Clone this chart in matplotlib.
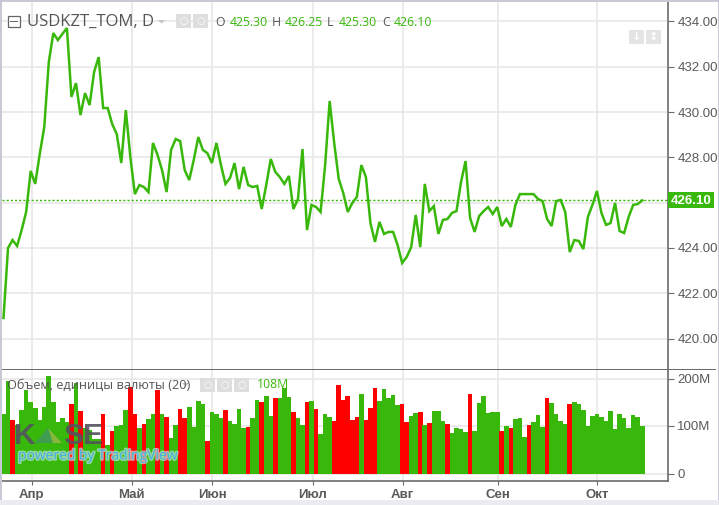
import matplotlib
matplotlib.use('Agg')
import matplotlib.pyplot as plt
import matplotlib.patheffects as pe
from matplotlib.patches import Rectangle, Polygon

#----------------------------------------------------------------------
# DATA
prices = [420.91, 424.0, 424.35, 424.09, 424.79, 425.59, 427.40, 426.83, 428.15, 429.34,
          432.21, 433.49, 433.18, 433.45, 433.71, 430.67, 431.28, 429.87, 430.84, 430.31,
          431.77, 432.43, 430.18, 430.18, 429.47, 429.03, 427.75, 430.09, 428.02, 426.38,
          426.78, 426.69, 426.47, 428.64, 428.11, 427.44, 426.47, 428.33, 428.81, 428.72,
          427.44, 427.0, 427.89, 428.90, 428.33, 428.19, 427.75, 428.64, 427.66, 426.83,
          427.09, 427.75, 426.6, 427.58, 426.78, 426.69, 426.74, 425.72, 426.78, 427.93,
          427.36, 427.13, 426.83, 427.18, 425.72, 426.16, 428.37, 424.79, 425.90, 425.81,
          425.59, 427.66, 430.49, 428.64, 427.05, 426.43, 425.59, 425.99, 426.25, 427.66,
          427.13, 425.10, 424.27, 425.15, 424.62, 424.71, 424.71, 424.13, 423.34, 423.60,
          424.04, 425.46, 424.04, 426.83, 425.63, 425.85, 424.62, 425.24, 425.28, 425.55,
          425.63, 426.91, 427.84, 425.32, 424.71, 425.41, 425.63, 425.81, 425.50, 425.81,
          424.97, 425.28, 424.93, 425.90, 426.38, 426.38, 426.38, 426.38, 426.16, 426.07,
          425.28, 424.97, 426.07, 426.12, 425.59, 423.82, 424.35, 424.31, 423.95, 425.37,
          425.90, 426.52, 425.55, 425.02, 425.10, 425.99, 424.75, 424.66, 425.37, 425.90,
          425.94, 426.10]

volumes = [126, 194, 112, 102, 133, 175, 150, 137, 112, 140,
           206, 150, 109, 116, 109, 147, 190, 131, 95, 91,
           72, 72, 126, 61, 90, 100, 102, 133, 183, 125,
           95, 105, 114, 125, 175, 126, 119, 75, 103, 135,
           117, 140, 98, 153, 147, 68, 130, 126, 116, 133,
           110, 105, 135, 95, 97, 117, 154, 151, 163, 121,
           158, 158, 181, 161, 129, 116, 103, 150, 153, 135,
           84, 125, 119, 110, 186, 154, 163, 112, 119, 167,
           112, 138, 180, 152, 178, 158, 165, 144, 147, 108,
           121, 127, 129, 103, 106, 131, 131, 110, 104, 86,
           95, 93, 88, 167, 90, 149, 163, 128, 129, 129,
           89, 101, 95, 114, 117, 77, 103, 108, 124, 97,
           158, 149, 125, 110, 104, 147, 150, 147, 133, 101,
           121, 125, 119, 110, 131, 93, 125, 116, 95, 123,
           119, 99]

down_bars = [2, 15, 17, 22, 24, 28, 29, 31, 34, 36, 39, 40, 45, 49, 54, 57, 60, 64, 67, 69,
             73, 74, 75, 76, 77, 78, 80, 81, 82, 88, 89, 92, 94, 98, 103, 110, 112, 116, 120, 125]

month_pos = [6.2, 28.3, 46.1, 68.3, 88.1, 109.2, 131.1]
month_labels = ['Апр', 'Май', 'Июн', 'Июл', 'Авг', 'Сен', 'Окт']
price_ticks = [420, 422, 424, 426, 428, 430, 432, 434]
price_labels = ['420.00', '422.00', '424.00', '', '428.00', '430.00', '432.00', '434.00']
vol_ticks = [0, 100, 200]
vol_labels = ['0', '100M', '200M']
last_price = 426.10
ohlc_names = ['O', 'H', 'L', 'C']
ohlc_values = ['425.30', '426.25', '425.30', '426.10']

#----------------------------------------------------------------------
# SETUP
W, H = 719, 505
GREEN = '#38b80a'
RED = '#ff0000'
GRID = '#e6e6e6'
AXIS = '#6b6b6b'
TXT = '#5a5a5a'
plt.rcParams['font.family'] = ['Liberation Sans', 'DejaVu Sans']

def box(x0, y0, x1, y1):
    # pixel box (top-left origin) to figure fraction
    return [x0/W, 1-y1/H, (x1-x0)/W, (y1-y0)/H]

def px(x, y, s, **kw):
    return fig.text(x/W, 1-y/H, s, va='center', **kw)

def rect(x0, y0, x1, y1, color, z=5):
    fig.add_artist(Rectangle((x0/W, 1-y1/H), (x1-x0)/W, (y1-y0)/H, transform=fig.transFigure,
                             facecolor=color, edgecolor='none', zorder=z))

def tri(pts, color, z=7, alpha=1.0):
    fig.add_artist(Polygon([(a/W, 1-b/H) for a, b in pts], transform=fig.transFigure,
                           facecolor=color, edgecolor='none', alpha=alpha, zorder=z))

fig = plt.figure(figsize=(W/100, H/100), dpi=100, facecolor='white')

# x scale: bar i sits at pixel 3.5+4.53*i
xlim = ((2-3.5)/4.53, (667.5-3.5)/4.53)
xs = list(range(len(prices)))

#----------------------------------------------------------------------
# PRICE PANE
ax = fig.add_axes(box(2, 2, 667.5, 368.5))
ax.set_xlim(xlim)
ax.set_ylim(434-(368.5-21.5)/22.65, 434+(21.5-2)/22.65)
ax.set_xticks(month_pos)
ax.set_yticks(price_ticks)
ax.set_yticklabels(price_labels, fontsize=9.5, color=TXT)
ax.yaxis.tick_right()
ax.tick_params(axis='x', length=0, labelbottom=False)
ax.tick_params(axis='y', length=4, color=AXIS, pad=3)
ax.grid(True, color=GRID, lw=1.1)
ax.set_axisbelow(True)
for s in ['top', 'left', 'bottom']:
    ax.spines[s].set_visible(False)
ax.spines['right'].set_color(AXIS)
ax.spines['right'].set_linewidth(1.2)
ax.axhline(last_price, color=GREEN, lw=1, ls=(0, (1.5, 1.5)), zorder=2)
ax.plot(xs, prices, color=GREEN, lw=1.8, solid_joinstyle='miter', zorder=3)

#----------------------------------------------------------------------
# VOLUME PANE
ax2 = fig.add_axes(box(2, 369.5, 667.5, 481))
ax2.set_xlim(xlim)
ax2.set_ylim(-(481-473.5)/0.475, (473.5-369.5)/0.475)
colors = [RED if i in down_bars else GREEN for i in range(len(volumes))]
ax2.bar(xs, volumes, width=1.02, color=colors, zorder=2)
ax2.set_xticks(month_pos)
ax2.set_xticklabels(month_labels, fontsize=9.5, color=TXT, fontweight='bold')
ax2.set_yticks(vol_ticks)
ax2.set_yticklabels(vol_labels, fontsize=9.5, color=TXT)
ax2.yaxis.tick_right()
ax2.tick_params(axis='x', length=3, color=AXIS, pad=3)
ax2.tick_params(axis='y', length=4, color=AXIS, pad=3)
ax2.grid(True, color=GRID, lw=1.1)
ax2.set_axisbelow(True)
ax2.spines['top'].set_visible(False)
ax2.spines['left'].set_visible(False)
ax2.spines['right'].set_color(AXIS)
ax2.spines['right'].set_linewidth(1.2)
ax2.spines['bottom'].set_color(AXIS)
ax2.spines['bottom'].set_linewidth(1.2)

#----------------------------------------------------------------------
# FRAME
rect(0, 0, 719, 1.5, '#c9c9d6', 1)
rect(0, 0, 1.5, 505, '#c9c9d6', 1)
rect(717.5, 0, 719, 505, '#c9c9d6', 1)
rect(0, 500, 719, 505, '#eaecf2', 1)
rect(2, 368.5, 716, 370, AXIS, 6)

#----------------------------------------------------------------------
# HEADER TEXT
fig.add_artist(Rectangle((7.5/W, 1-27/H), 12.5/W, 11/H, transform=fig.transFigure,
                         facecolor='white', edgecolor='#666666', lw=0.9, zorder=7))
rect(10, 21, 18, 22, '#666666', 8)
px(27, 22, 'USDKZT_TOM, D', fontsize=12, color='#555555', family='Open Sans', zorder=7)
tri([(158, 20), (165, 20), (161.5, 23.5)], '#c4c4c4')
rect(176, 14, 191, 28, '#dedede', 7)
rect(193, 14, 208, 28, '#dedede', 7)
for cx in [183.5, 200.5]:
    px(cx, 21, '○', fontsize=7, color='white', ha='center', zorder=8, family='DejaVu Sans')

name_x = [215, 272, 327, 382]
value_x = [230, 285, 339, 394]
for nx, vx, n, v in zip(name_x, value_x, ohlc_names, ohlc_values):
    px(nx, 22, n, fontsize=8.8, color='#555555', zorder=7, family='Open Sans')
    px(vx, 22, v, fontsize=8.8, color=GREEN, zorder=7, family='Open Sans')

rect(629, 30, 644, 44, '#e4e4e4', 7)
rect(646, 30, 661, 44, '#e4e4e4', 7)
px(636.5, 37, '↓', fontsize=8, color='white', ha='center', zorder=8, family='DejaVu Sans', fontweight='bold')
px(653.5, 37, '↕', fontsize=8, color='white', ha='center', zorder=8, family='DejaVu Sans', fontweight='bold')

# last price label
rect(668, 192.5, 714, 208.5, GREEN, 7)
px(691, 201, '%.2f' % last_price, fontsize=9.5, color='white', fontweight='bold', ha='center', zorder=8)

# volume legend
px(7, 385, 'Объем, единицы валюты (20)', fontsize=9.2, color='#555555', zorder=7, family='Open Sans')
tri([(182, 383), (189, 383), (185.5, 386.5)], '#c4c4c4')
for x0 in [200, 217, 234]:
    rect(x0, 378, x0+15, 392, '#dedede', 7)
    px(x0+7.5, 385, '○', fontsize=7, color='white', ha='center', zorder=8, family='DejaVu Sans')
px(257, 385, '108M', fontsize=8.8, color=GREEN, zorder=7, family='Open Sans')

#----------------------------------------------------------------------
# LOGO
px(14, 435.5, 'K', fontsize=21.5, color='#55525e', zorder=9, alpha=0.9, fontweight='bold')
px(63, 435.5, 'SE', fontsize=21.5, color='#55525e', zorder=9, alpha=0.9, fontweight='bold')
tri([(35, 443), (48, 428), (62, 443)], '#3f9a5a', 9, 0.9)
tri([(48, 428), (53, 443), (62, 443)], '#8fbc3a', 9, 0.9)
t = px(18, 456, 'powered by TradingView', fontsize=10, color='#3fb0e0', zorder=9, family='Open Sans')
t.set_path_effects([pe.withStroke(linewidth=2, foreground='#bfe3d8', alpha=0.7)])

fig.savefig('out.png', dpi=100)
